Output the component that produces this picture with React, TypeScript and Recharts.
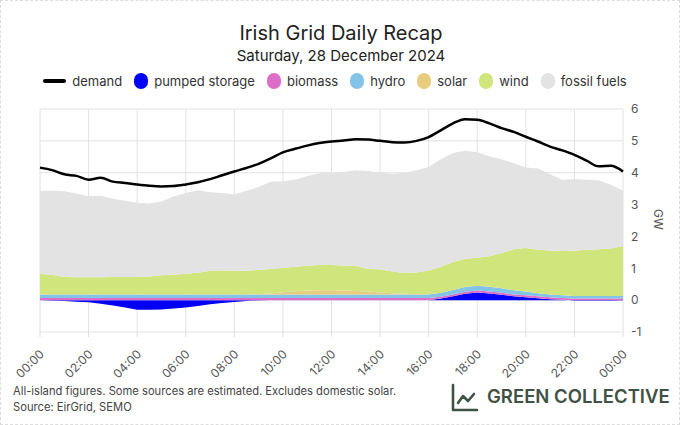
import React from 'react';
import { ComposedChart, Area, Line, XAxis, YAxis, CartesianGrid } from 'recharts';

// half-hour steps, 00:00 -> 24:00
const hours = [
  0, 0.5, 1, 1.5, 2, 2.5, 3, 3.5, 4, 4.5, 5, 5.5, 6, 6.5, 7, 7.5, 8, 8.5, 9, 9.5, 10, 10.5, 11, 11.5,
  12, 12.5, 13, 13.5, 14, 14.5, 15, 15.5, 16, 16.5, 17, 17.5, 18, 18.5, 19, 19.5, 20, 20.5, 21, 21.5,
  22, 22.5, 23, 23.5, 24,
];

const demand = [
  4.16, 4.08, 3.95, 3.9, 3.78, 3.84, 3.72, 3.68, 3.63, 3.59, 3.57, 3.58, 3.63, 3.7, 3.8, 3.92, 4.04,
  4.15, 4.28, 4.45, 4.64, 4.75, 4.85, 4.93, 4.98, 5.01, 5.05, 5.04, 5.0, 4.96, 4.95, 5.0, 5.12, 5.33,
  5.55, 5.68, 5.66, 5.55, 5.4, 5.28, 5.13, 4.98, 4.82, 4.7, 4.56, 4.38, 4.2, 4.22, 4.04,
];

const pumpedStorage = [
  0, -0.02, -0.03, -0.05, -0.07, -0.11, -0.17, -0.23, -0.3, -0.3, -0.29, -0.26, -0.23, -0.18, -0.13,
  -0.09, -0.06, -0.03, -0.01, 0, 0, 0, 0, 0, 0, 0, 0, 0, 0, 0, 0, 0, 0, 0.05, 0.12, 0.2, 0.24, 0.21,
  0.17, 0.12, 0.09, 0.06, 0.03, 0.01, -0.02, -0.02, -0.02, -0.02, -0.01,
];

const biomass = [
  0.07, 0.07, 0.07, 0.07, 0.07, 0.07, 0.07, 0.07, 0.07, 0.07, 0.07, 0.07, 0.07, 0.07, 0.07, 0.07, 0.07,
  0.07, 0.07, 0.07, 0.07, 0.07, 0.07, 0.07, 0.07, 0.07, 0.07, 0.07, 0.07, 0.07, 0.07, 0.07, 0.07, 0.06,
  0.06, 0.06, 0.06, 0.06, 0.06, 0.06, 0.06, 0.06, 0.06, 0.06, 0.05, 0.05, 0.05, 0.05, 0.05,
];

const hydro = [
  0.11, 0.11, 0.11, 0.11, 0.11, 0.11, 0.11, 0.11, 0.11, 0.11, 0.11, 0.11, 0.11, 0.11, 0.11, 0.11, 0.11,
  0.11, 0.11, 0.11, 0.11, 0.11, 0.11, 0.11, 0.11, 0.11, 0.11, 0.11, 0.11, 0.11, 0.11, 0.11, 0.11, 0.12,
  0.14, 0.15, 0.15, 0.15, 0.14, 0.13, 0.12, 0.1, 0.09, 0.08, 0.08, 0.08, 0.08, 0.08, 0.08,
];

const solar = [
  0, 0, 0, 0, 0, 0, 0, 0, 0, 0, 0, 0, 0, 0, 0, 0, 0, 0, 0.01, 0.03, 0.07, 0.1, 0.12, 0.13, 0.13, 0.12,
  0.11, 0.09, 0.06, 0.04, 0.02, 0.01, 0, 0, 0, 0, 0, 0, 0, 0, 0, 0, 0, 0, 0, 0, 0, 0, 0,
];

const wind = [
  0.64, 0.62, 0.55, 0.54, 0.54, 0.54, 0.55, 0.55, 0.55, 0.56, 0.6, 0.62, 0.65, 0.68, 0.74, 0.75, 0.74,
  0.74, 0.76, 0.77, 0.76, 0.77, 0.78, 0.79, 0.79, 0.79, 0.78, 0.71, 0.73, 0.68, 0.65, 0.68, 0.75, 0.82,
  0.88, 0.89, 0.88, 0.96, 1.11, 1.29, 1.37, 1.36, 1.38, 1.39, 1.42, 1.45, 1.47, 1.49, 1.57,
];

const fossilFuels = [
  2.61, 2.63, 2.69, 2.63, 2.54, 2.56, 2.45, 2.39, 2.33, 2.29, 2.32, 2.45, 2.53, 2.59, 2.47, 2.43, 2.4,
  2.51, 2.6, 2.74, 2.72, 2.73, 2.82, 2.88, 2.9, 2.94, 3.01, 3.07, 3.03, 3.07, 3.15, 3.21, 3.25, 3.37,
  3.42, 3.39, 3.31, 3.14, 2.94, 2.7, 2.52, 2.55, 2.39, 2.24, 2.25, 2.2, 2.16, 2.0, 1.73,
];

const xTicks = [0, 2, 4, 6, 8, 10, 12, 14, 16, 18, 20, 22, 24];
const yTicks = [-1, 0, 1, 2, 3, 4, 5, 6];

const series = [
  { key: 'pumped', name: 'pumped storage', color: '#0000f5' },
  { key: 'biomass', name: 'biomass', color: '#dd6ec8' },
  { key: 'hydro', name: 'hydro', color: '#84c3e8' },
  { key: 'solar', name: 'solar', color: '#e8cd7e' },
  { key: 'wind', name: 'wind', color: '#d0e67c' },
  { key: 'fossil', name: 'fossil fuels', color: '#e3e3e3' },
];

const data = hours.map((h, i) => ({
  h,
  demand: demand[i],
  pumped: pumpedStorage[i],
  biomass: biomass[i],
  hydro: hydro[i],
  solar: solar[i],
  wind: wind[i],
  fossil: fossilFuels[i],
}));

const FONT = 'Inter, "Noto Sans", sans-serif';

const fmtHour = (v: number) => `${String(v % 24).padStart(2, '0')}:00`;

const TimeTick = ({ x, y, payload }: any) => (
  <text
    x={0}
    y={0}
    transform={`translate(${x + 2},${y + 13}) rotate(-45)`}
    textAnchor="end"
    dy="0.35em"
    fill="#555"
    fontSize={12}
    fontFamily={FONT}
  >
    {fmtHour(payload.value)}
  </text>
);

const LegendRow = () => (
  <div
    style={{
      position: 'absolute',
      top: 72,
      left: 0,
      width: 680,
      display: 'flex',
      justifyContent: 'center',
      alignItems: 'center',
      fontSize: 13,
      color: '#333',
    }}
  >
    <span style={{ display: 'flex', alignItems: 'center', marginRight: 12 }}>
      <span style={{ width: 23, height: 4, borderRadius: 2, background: '#000', marginRight: 6 }} />
      demand
    </span>
    {series.map((s) => (
      <span key={s.key} style={{ display: 'flex', alignItems: 'center', marginRight: 12 }}>
        <span
          style={{ width: 14, height: 16, borderRadius: 7, background: s.color, marginRight: 6 }}
        />
        {s.name}
      </span>
    ))}
  </div>
);

const App = () => {
  return (
    <div
      style={{
        position: 'absolute',
        left: 0,
        top: 0,
        width: 678,
        height: 423,
        border: '1px dashed #ddd',
        background: '#fff',
        fontFamily: FONT,
        overflow: 'hidden',
      }}
    >
      <ComposedChart
        width={680}
        height={425}
        data={data}
        stackOffset="sign"
        margin={{ top: 109, right: 27, bottom: 63, left: 40 }}
        style={{ position: 'absolute', left: -1, top: -1 }}
      >
        <CartesianGrid stroke="#e2e2e2" />
        <XAxis
          dataKey="h"
          type="number"
          domain={[0, 24]}
          ticks={xTicks}
          interval={0}
          axisLine={false}
          tickLine={{ stroke: '#ddd' }}
          tickSize={5}
          height={30}
          tick={<TimeTick />}
        />
        <YAxis
          orientation="right"
          domain={[-1, 6]}
          ticks={yTicks}
          interval={0}
          axisLine={false}
          tickLine={false}
          width={30}
          tick={{ fill: '#555', fontSize: 12, fontFamily: FONT }}
        />
        {series.map((s) => (
          <Area
            key={s.key}
            dataKey={s.key}
            name={s.name}
            stackId="gen"
            type="linear"
            fill={s.color}
            fillOpacity={1}
            stroke="none"
            isAnimationActive={false}
          />
        ))}
        <Line
          dataKey="demand"
          name="demand"
          type="monotone"
          stroke="#000"
          strokeWidth={2.5}
          dot={false}
          isAnimationActive={false}
        />
      </ComposedChart>

      <div
        style={{
          position: 'absolute',
          top: 20,
          width: 680,
          textAlign: 'center',
          fontSize: 20,
          color: '#222',
        }}
      >
        Irish Grid Daily Recap
      </div>
      <div
        style={{
          position: 'absolute',
          top: 45,
          width: 680,
          textAlign: 'center',
          fontSize: 15,
          color: '#222',
        }}
      >
        Saturday, 28 December 2024
      </div>
      <LegendRow />

      <div
        style={{
          position: 'absolute',
          left: 647,
          top: 211,
          fontSize: 12,
          color: '#555',
          transform: 'rotate(90deg)',
        }}
      >
        GW
      </div>

      <div
        style={{
          position: 'absolute',
          left: 12,
          top: 382,
          fontSize: 11.2,
          lineHeight: '16px',
          color: '#444',
        }}
      >
        All-island figures. Some sources are estimated. Excludes domestic solar.
        <br />
        Source: EirGrid, SEMO
      </div>

      <svg
        width={30}
        height={30}
        style={{ position: 'absolute', left: 449, top: 382 }}
        viewBox="0 0 30 30"
      >
        <path
          d="M3 2 V27 H27"
          fill="none"
          stroke="#3f5243"
          strokeWidth={2.6}
          strokeLinecap="round"
          strokeLinejoin="round"
        />
        <path
          d="M8 20 L13 13 L18 18 L24 11"
          fill="none"
          stroke="#3f5243"
          strokeWidth={2.6}
          strokeLinecap="round"
          strokeLinejoin="round"
        />
      </svg>
      <div
        style={{
          position: 'absolute',
          left: 486,
          top: 384,
          fontSize: 18.5,
          fontWeight: 600,
          color: '#3f5243',
          whiteSpace: 'nowrap',
        }}
      >
        GREEN COLLECTIVE
      </div>
    </div>
  );
};

export default App;
